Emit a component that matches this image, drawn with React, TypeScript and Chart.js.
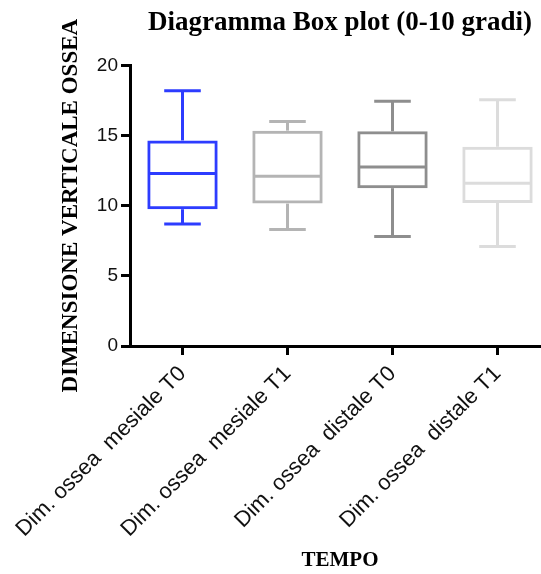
import { useEffect, useRef } from "react";
import { Chart, registerables } from "chart.js";

Chart.register(...registerables);

const categories = [
  "Dim. ossea  mesiale T0",
  "Dim. ossea  mesiale T1",
  "Dim. ossea  distale T0",
  "Dim. ossea  distale T1",
];
const mins = [8.7, 8.3, 7.8, 7.1];
const q1s = [9.75, 10.15, 11.25, 10.2];
const medians = [12.3, 12.1, 12.75, 11.6];
const q3s = [14.65, 15.35, 15.3, 14.2];
const maxs = [18.2, 16.0, 17.45, 17.55];
const boxColors = ["#2d3cff", "#b4b4b4", "#8e8e8e", "#dcdcdc"];
const yTicks = [0, 5, 10, 15, 20];

const titleText = "Diagramma Box plot (0-10 gradi)";
const yTitle = "DIMENSIONE VERTICALE OSSEA";
const xTitle = "TEMPO";

const whiskerPlugin = {
  id: "whiskers",
  afterDatasetsDraw(chart: any) {
    const { ctx, scales } = chart;
    const xs = scales.x;
    const ys = scales.y;
    const meta = chart.getDatasetMeta(0);
    ctx.save();
    ctx.lineWidth = 3;
    ctx.lineCap = "butt";
    const seg = (x1: number, y1: number, x2: number, y2: number) => {
      ctx.beginPath();
      ctx.moveTo(x1, y1);
      ctx.lineTo(x2, y2);
      ctx.stroke();
    };
    categories.forEach((_, i) => {
      const bar = meta.data[i];
      const cx = xs.getPixelForValue(i);
      const half = bar.width / 2;
      const capHalf = half * 0.52;
      ctx.strokeStyle = boxColors[i];
      const yMed = ys.getPixelForValue(medians[i]);
      const yQ1 = ys.getPixelForValue(q1s[i]);
      const yQ3 = ys.getPixelForValue(q3s[i]);
      const yMin = ys.getPixelForValue(mins[i]);
      const yMax = ys.getPixelForValue(maxs[i]);
      seg(cx - half + 1.5, yMed, cx + half - 1.5, yMed);
      seg(cx, yQ3, cx, yMax);
      seg(cx - capHalf, yMax, cx + capHalf, yMax);
      seg(cx, yQ1, cx, yMin);
      seg(cx - capHalf, yMin, cx + capHalf, yMin);
    });
    ctx.restore();
  },
};

export default function App() {
  const ref = useRef<HTMLCanvasElement | null>(null);

  useEffect(() => {
    if (!ref.current) return;
    const sans = "'Liberation Sans', Arial, sans-serif";
    const serif = "'Liberation Serif', 'Times New Roman', serif";
    const chart = new Chart(ref.current, {
      type: "bar",
      data: {
        labels: categories,
        datasets: [
          {
            data: q1s.map((q, i) => [q, q3s[i]]) as any,
            backgroundColor: "rgba(255,255,255,0)",
            borderColor: boxColors,
            borderWidth: 3,
            borderSkipped: false,
            barPercentage: 0.67,
            categoryPercentage: 1,
          },
        ],
      },
      options: {
        responsive: false,
        animation: false,
        layout: { padding: { left: 0, right: 10, top: 0, bottom: 0 } },
        plugins: {
          legend: { display: false },
          tooltip: { enabled: false },
          title: {
            display: true,
            fullSize: false,
            text: titleText,
            color: "#000",
            font: { family: serif, size: 27, weight: "bold" },
            padding: { top: 7, bottom: 26 },
          },
        },
        scales: {
          x: {
            type: "category",
            offset: true,
            grid: {
              display: true,
              drawOnChartArea: false,
              drawTicks: true,
              tickLength: 9,
              lineWidth: 3,
              color: "#000",
              offset: false,
            },
            border: { display: true, color: "#000", width: 3 },
            ticks: {
              minRotation: 45,
              maxRotation: 45,
              autoSkip: false,
              font: { family: sans, size: 22 },
              color: "#111",
              padding: 6,
            },
            title: {
              display: true,
              text: xTitle,
              color: "#000",
              font: { family: serif, size: 21, weight: "bold" },
              padding: { top: 0, bottom: 1 },
            },
            afterFit(scale: any) {
              scale.height = 228;
              scale.paddingLeft = 0;
              scale.paddingRight = 0;
            },
          },
          y: {
            min: 0,
            max: 20,
            afterBuildTicks(scale: any) {
              scale.ticks = yTicks.map((v) => ({ value: v }));
            },
            grid: {
              display: true,
              drawOnChartArea: false,
              drawTicks: true,
              tickLength: 9,
              lineWidth: 3,
              color: "#000",
            },
            border: { display: true, color: "#000", width: 3 },
            ticks: { font: { family: sans, size: 19 }, color: "#111", padding: 3 },
            title: {
              display: true,
              text: yTitle,
              color: "#000",
              font: { family: serif, size: 23, weight: "bold" },
              padding: { top: 57, bottom: 0 },
            },
            afterFit(scale: any) {
              scale.width = 130;
            },
          },
        },
      } as any,
      plugins: [whiskerPlugin],
    });
    return () => chart.destroy();
  }, []);

  return (
    <div
      style={{
        position: "fixed",
        left: 0,
        top: 0,
        width: 541,
        height: 574,
        overflow: "hidden",
        background: "#fff",
      }}
    >
      <canvas ref={ref} width={560} height={574} style={{ display: "block" }} />
    </div>
  );
}
